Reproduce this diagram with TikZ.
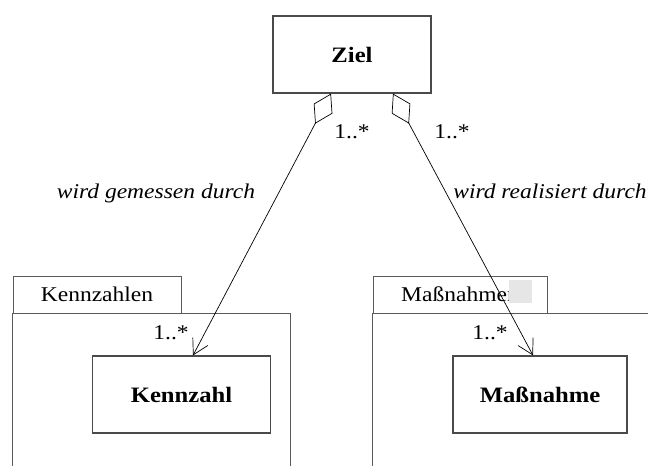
\documentclass[tikz,border=0pt]{standalone}
\usepackage{fontspec}
\setmainfont{Liberation Serif}[FakeStretch=1.12]
\usetikzlibrary{arrows.meta}
\definecolor{frame}{HTML}{4A4A4A}
\definecolor{pkgline}{HTML}{5A5A5A}
\definecolor{patch}{HTML}{E6E6E6}

\begin{document}
\begin{tikzpicture}[x=1pt,y=-1pt,font=\fontsize{21}{25}\selectfont]
  \tikzset{classbox/.style={draw=frame,line width=1.2pt,minimum width=178pt,minimum height=77pt,align=center,font=\fontsize{22}{26}\selectfont\bfseries,inner sep=0pt},
    tabbox/.style={draw=pkgline,line width=0.9pt,minimum height=37pt,inner sep=0pt},
    pkg/.style={draw=pkgline,line width=0.9pt},
    assoc/.style={black,line width=0.7pt,{Diamond[open,length=34pt,width=21pt]}-{Straight Barb[length=15pt,width=17pt]}},
    mult/.style={inner sep=0pt}}
  \useasboundingbox (0,0) rectangle (648,466);
  \node[classbox,minimum width=158pt] (ziel) at (352,54.5) {Ziel};
  \node[tabbox,minimum width=168pt] (kztab) at (97,294.5) {Kennzahlen};
  \node[tabbox,minimum width=174pt] (mntab) at (460,294.5) {Maßnahmen};
  \fill[patch] (509,280) rectangle (532,303);
  \draw[pkg] (kztab.south west) -- ++(0,153) (kztab.south west) -- ++(278,0) -- ++(0,153);
  \draw[pkg] (mntab.south west) -- ++(0,153) (mntab.south west) -- ++(275,0);
  \node[classbox] (kennzahl) at (181.5,394.5) {Kennzahl};
  \node[classbox,minimum width=174pt] (massnahme) at (540,394.5) {Maßnahme};
  % Assoziationen
  \draw[assoc] ([xshift=-21pt]ziel.south) -- ([xshift=11.5pt]kennzahl.north);
  \draw[assoc] ([xshift=41pt]ziel.south) -- ([xshift=-7pt]massnahme.north);
  \node[mult] (m1) at (352,132) {1..*};
  \node[mult] (m2) at (452,132) {1..*};
  \node[mult] (m3) at (171,333) {1..*};
  \node[mult] (m4) at (490,333) {1..*};
  \node[font=\fontsize{21}{25}\selectfont\itshape,inner sep=0pt] (gemessen) at (156,193) {wird gemessen durch};
  \node[font=\fontsize{21}{25}\selectfont\itshape,inner sep=0pt] (realisiert) at (550,191) {wird realisiert durch};
\end{tikzpicture}
\end{document}
